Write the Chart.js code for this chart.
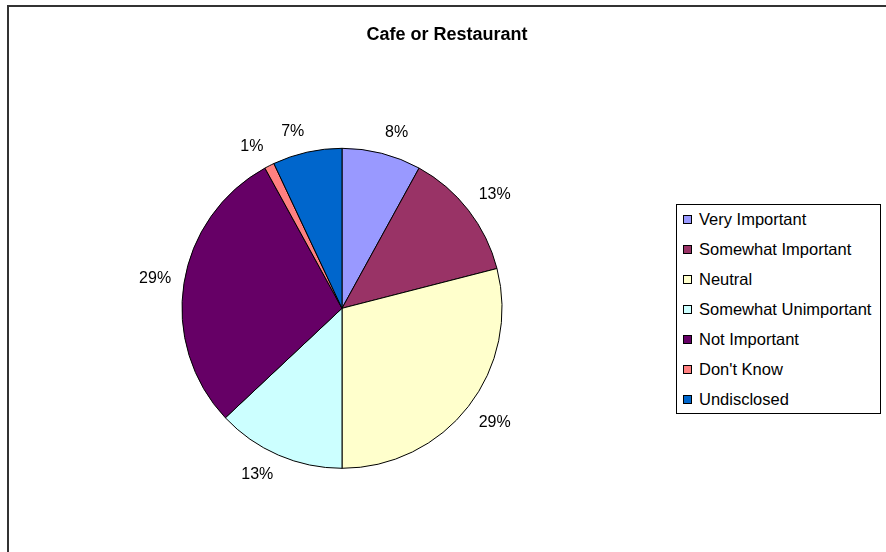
<!DOCTYPE html>
<html lang="en">
<head>
    <meta charset="UTF-8">
    <title>Cafe or Restaurant</title>
    <script src="https://cdn.jsdelivr.net/npm/chart.js"></script>
    <style>
        body { margin: 0; background: #fff; }
        .chart-root { position: relative; width: 886px; height: 552px; overflow: hidden; font-family: "Liberation Sans", Arial, sans-serif; }
        .chart-frame { position: absolute; left: 7px; top: 5px; right: 0; bottom: 0; border-top: 2px solid #333; border-left: 2px solid #333; pointer-events: none; }
        #pieChart { position: absolute; left: 0; top: 0; }
        .legend-box { position: absolute; left: 676px; top: 204px; width: 203px; height: 208px; border: 1px solid #000; background: #fff; }
        .legend-item { position: absolute; left: 6px; height: 18px; line-height: 18px; font-size: 16.5px; color: #000; white-space: nowrap; }
        .legend-swatch { display: inline-block; width: 7px; height: 7px; border: 1px solid #000; margin-right: 7px; vertical-align: 1px; }
    </style>
</head>
<body>
    <div class="chart-root">
        <canvas id="pieChart" width="886" height="552"></canvas>
        <div class="chart-frame"></div>
        <div class="legend-box" id="legend-box"></div>
    </div>
    <script>
    const categories = ['Very Important', 'Somewhat Important', 'Neutral', 'Somewhat Unimportant', 'Not Important', "Don't Know", 'Undisclosed'];
    const percentages = [8, 13, 29, 13, 29, 1, 7];
    const sliceColors = ['#9999FF', '#993366', '#FFFFCC', '#CCFFFF', '#660066', '#FF8080', '#0066CC'];

    // Legend (html, so the text stays real text)
    const legendBox = document.getElementById('legend-box');
    categories.forEach((c, i) => {
        const item = document.createElement('div');
        item.className = 'legend-item';
        item.style.top = (5 + i * 30) + 'px';
        item.innerHTML = `<span class="legend-swatch" style="background:${sliceColors[i]}"></span>${c}`;
        legendBox.appendChild(item);
    });

    // percent labels: the label corner nearest the pie sits a bit outside the slice middle
    const outsideLabels = {
        id: 'outsideLabels',
        afterDatasetsDraw(chart) {
            const ctx = chart.ctx;
            const arcs = chart.getDatasetMeta(0).data;
            ctx.save();
            ctx.font = '16px "Liberation Sans", Arial, sans-serif';
            ctx.fillStyle = '#000';
            ctx.textBaseline = 'middle';
            arcs.forEach((arc, i) => {
                const mid = (arc.startAngle + arc.endAngle) / 2;
                const r = arc.outerRadius + 13;
                const ax = arc.x + Math.cos(mid) * r;
                const ay = arc.y + Math.sin(mid) * r;
                ctx.textAlign = Math.cos(mid) >= 0 ? 'left' : 'right';
                // near the sides the label is centred vertically on the anchor
                const s = Math.max(-1, Math.min(1, Math.sin(mid) / 0.5));
                ctx.fillText(percentages[i] + '%', ax, ay + 8 * s);
            });
            ctx.restore();
        }
    };

    // title spans the whole frame, not just the pie area
    const wideTitle = {
        id: 'wideTitle',
        afterLayout(chart) {
            const t = chart.titleBlock;
            t.left = 8;
            t.right = chart.width;
            t.width = t.right - t.left;
        }
    };

    new Chart(document.getElementById('pieChart').getContext('2d'), {
        type: 'pie',
        data: {
            labels: categories,
            datasets: [{
                data: percentages,
                backgroundColor: sliceColors,
                borderColor: '#000',
                borderWidth: 1,
                radius: 160
            }]
        },
        options: {
            responsive: false,
            animation: false,
            devicePixelRatio: 1,
            layout: { padding: { left: 8, right: 210, top: 0, bottom: 83 } },
            plugins: {
                legend: { display: false },
                tooltip: { enabled: false },
                title: {
                    display: true,
                    text: 'Cafe or Restaurant',
                    color: '#000',
                    font: { family: '"Liberation Sans", Arial, sans-serif', size: 18, weight: 'bold' },
                    padding: { top: 24, bottom: 102 }
                }
            }
        },
        plugins: [outsideLabels, wideTitle]
    });
    </script>
</body>
</html>
